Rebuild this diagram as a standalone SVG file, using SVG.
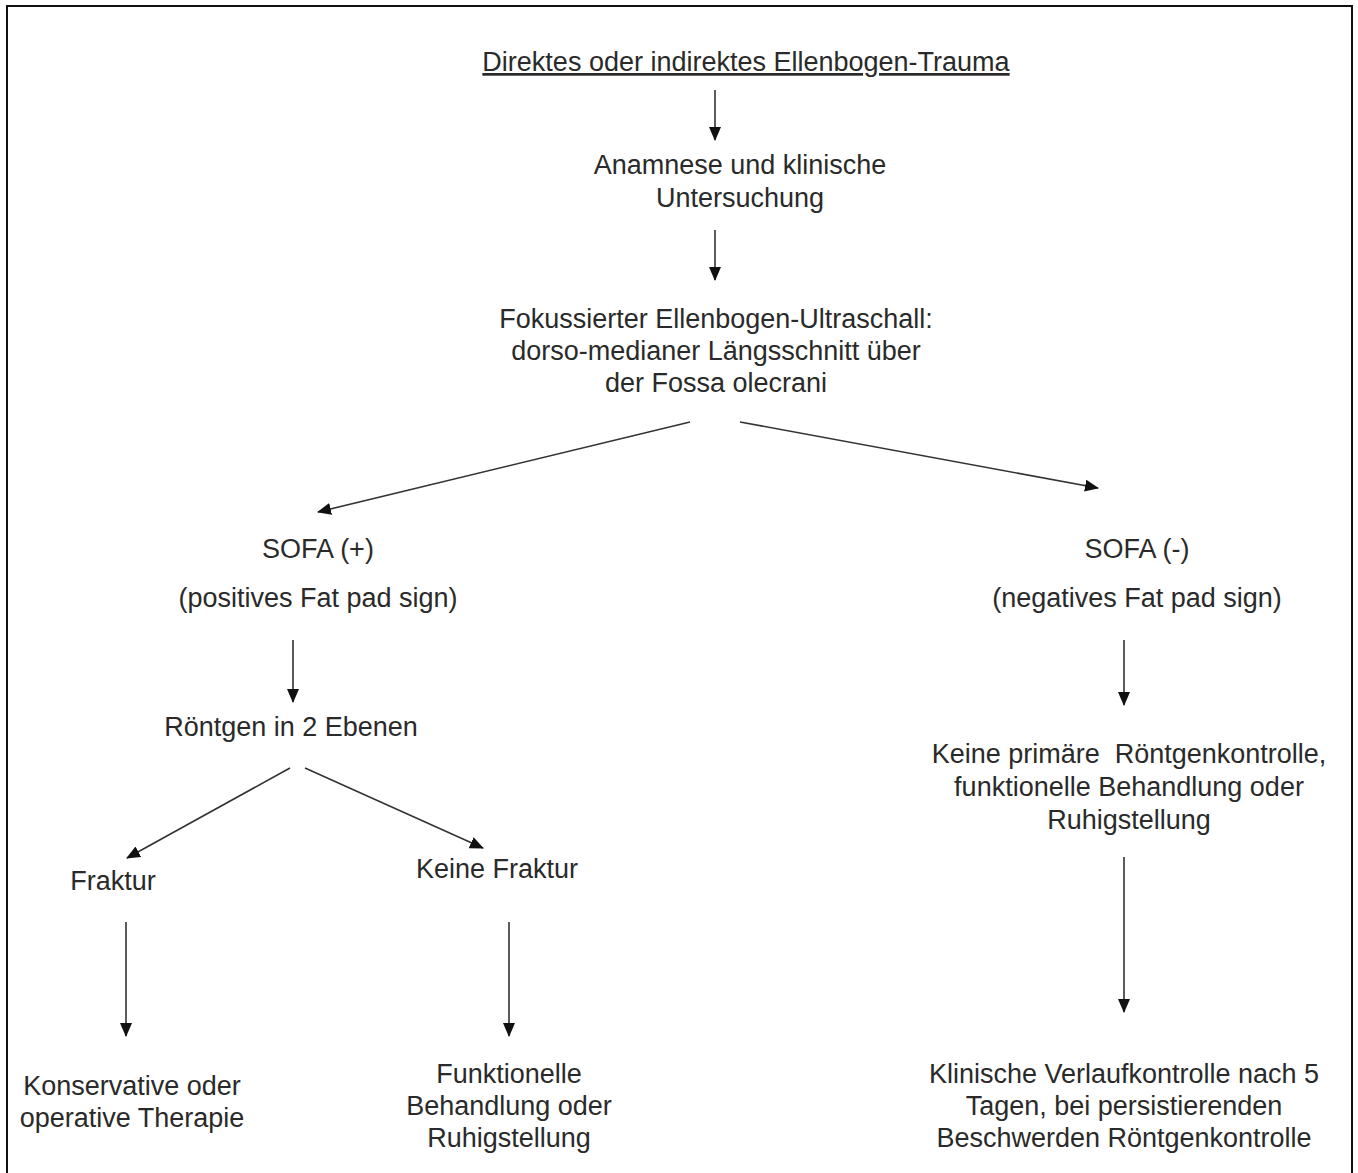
<svg xmlns="http://www.w3.org/2000/svg" width="1358" height="1173" viewBox="0 0 1358 1173">
<style>
text{font-family:"Liberation Sans",Arial,sans-serif;font-size:27px;fill:#2a2a2a;text-anchor:middle}
.c line{stroke:#333;stroke-width:1.6;marker-end:url(#ah)}
</style>
<defs>
<marker id="ah" markerUnits="userSpaceOnUse" markerWidth="14" markerHeight="12" refX="13" refY="6" orient="auto">
<path d="M0,0 L14,6 L0,12 Z" fill="#111"/>
</marker>
</defs>
<rect x="0" y="0" width="1358" height="1173" fill="#fff"/>
<rect x="7" y="6" width="1345" height="1180" fill="none" stroke="#111" stroke-width="2"/>
<g class="c">
<line x1="715" y1="90" x2="715" y2="140"/>
<line x1="715" y1="230" x2="715" y2="280"/>
<line x1="690" y1="422" x2="318" y2="512"/>
<line x1="740" y1="422" x2="1098" y2="488"/>
<line x1="293" y1="640" x2="293" y2="702"/>
<line x1="290" y1="768" x2="127" y2="858"/>
<line x1="305" y1="768" x2="483" y2="848"/>
<line x1="126" y1="922" x2="126" y2="1036"/>
<line x1="509" y1="922" x2="509" y2="1036"/>
<line x1="1124" y1="640" x2="1124" y2="705"/>
<line x1="1124" y1="857" x2="1124" y2="1012"/>
</g>
<g id="n1"><text x="746" y="71" text-decoration="underline">Direktes oder indirektes Ellenbogen-Trauma</text></g>
<g id="n2"><text x="740" y="174">Anamnese und klinische</text><text x="740" y="207">Untersuchung</text></g>
<g id="n3"><text x="716" y="328">Fokussierter Ellenbogen-Ultraschall:</text><text x="716" y="360">dorso-medianer Längsschnitt über</text><text x="716" y="392">der Fossa olecrani</text></g>
<g id="n4"><text x="318" y="558">SOFA (+)</text><text x="318" y="607">(positives Fat pad sign)</text></g>
<g id="n5"><text x="1137" y="558">SOFA (-)</text><text x="1137" y="607">(negatives Fat pad sign)</text></g>
<g id="n6"><text x="291" y="736">Röntgen in 2 Ebenen</text></g>
<g id="n7"><text x="113" y="890">Fraktur</text></g>
<g id="n8"><text x="497" y="878">Keine Fraktur</text></g>
<g id="n9"><text x="132" y="1095">Konservative oder</text><text x="132" y="1127">operative Therapie</text></g>
<g id="n10"><text x="509" y="1083">Funktionelle</text><text x="509" y="1115">Behandlung oder</text><text x="509" y="1147">Ruhigstellung</text></g>
<g id="n11"><text x="1129" y="763" xml:space="preserve">Keine primäre  Röntgenkontrolle,</text><text x="1129" y="796">funktionelle Behandlung oder</text><text x="1129" y="829">Ruhigstellung</text></g>
<g id="n12"><text x="1124" y="1083">Klinische Verlaufkontrolle nach 5</text><text x="1124" y="1115">Tagen, bei persistierenden</text><text x="1124" y="1147">Beschwerden Röntgenkontrolle</text></g>
</svg>
